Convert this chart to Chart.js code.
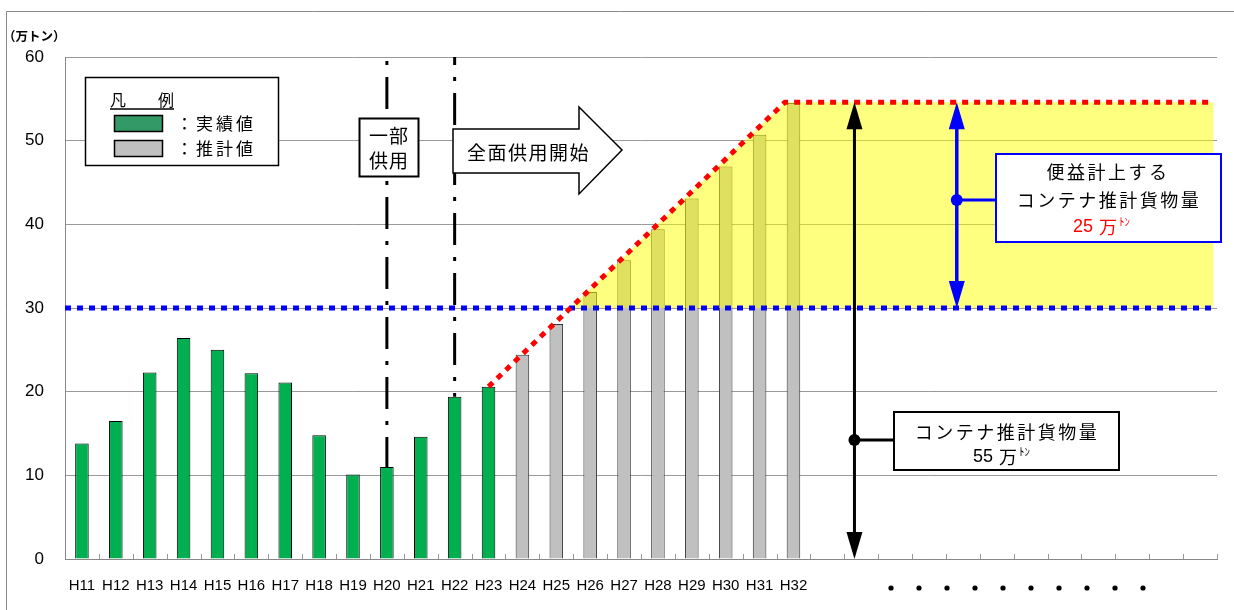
<!DOCTYPE html>
<html lang="ja">
<head>
  <meta charset="UTF-8">
  <title>コンテナ推計貨物量</title>
  <script src="https://cdn.jsdelivr.net/npm/chart.js"></script>
  <style>
    body { margin: 0; background: #fff; }
    canvas { display: block; }
  </style>
</head>
<body>
  <canvas id="cargoChart" width="1234" height="610"></canvas>

  <script>
    // data (万トン)
    const years = ['H11','H12','H13','H14','H15','H16','H17','H18','H19','H20','H21','H22','H23',
                   'H24','H25','H26','H27','H28','H29','H30','H31','H32'];
    const emptySlots = 12;
    const actual = [13.8, 16.5, 22.3, 26.4, 25.0, 22.2, 21.1, 14.8, 10.1, 11.0, 14.6, 19.4, 20.6];
    const forecast = [24.4, 28.1, 31.9, 35.7, 39.4, 43.1, 46.9, 50.7, 54.5];
    const yTicks = [0, 10, 20, 30, 40, 50, 60];

    // overlay lines, in (category index, value)
    const threshold = 30;
    const plateau = 54.6;
    const rampLine = [{x: 12, y: 20.6}, {x: 20.75, y: plateau}, {x: 33.4, y: plateau}];
    const benefitArea = [{x: 14.42, y: threshold}, {x: 20.75, y: plateau}, {x: 33.4, y: plateau}];
    const thresholdLine = [{x: -0.5, y: threshold}, {x: 33.4, y: threshold}];
    const partialOpen = 9;   // H20
    const fullOpen = 11;     // H22
    const totalArrowAt = 22.8;
    const benefitArrowAt = 25.82;

    const labels = years.concat(Array(emptySlots).fill(''));
    const actualData = labels.map((_, i) => i < actual.length ? actual[i] : null);
    const forecastData = labels.map((_, i) => {
      const k = i - actual.length;
      return k >= 0 && k < forecast.length ? forecast[k] : null;
    });

    const JP = '"Noto Sans CJK JP", sans-serif';
    const LAT = '"Liberation Sans", Arial, sans-serif';

    function text(ctx, str, x, y, font, color, align, spacing) {
      ctx.save();
      ctx.font = font;
      ctx.fillStyle = color || '#000';
      ctx.textAlign = align || 'left';
      ctx.textBaseline = 'middle';
      ctx.letterSpacing = spacing || '0px';
      ctx.fillText(str, x, y);
      ctx.restore();
    }

    function box(ctx, x, y, w, h, stroke, lw) {
      ctx.save();
      ctx.fillStyle = '#fff';
      ctx.fillRect(x, y, w, h);
      ctx.strokeStyle = stroke;
      ctx.lineWidth = lw;
      ctx.strokeRect(x, y, w, h);
      ctx.restore();
    }

    function doubleArrow(ctx, x, yTop, yBot, color, lw) {
      ctx.save();
      ctx.strokeStyle = color;
      ctx.fillStyle = color;
      ctx.lineWidth = lw;
      ctx.beginPath();
      ctx.moveTo(x, yTop + 20);
      ctx.lineTo(x, yBot - 20);
      ctx.stroke();
      ctx.beginPath();
      ctx.moveTo(x, yTop); ctx.lineTo(x - 8, yTop + 27); ctx.lineTo(x + 8, yTop + 27);
      ctx.closePath(); ctx.fill();
      ctx.beginPath();
      ctx.moveTo(x, yBot); ctx.lineTo(x - 8, yBot - 27); ctx.lineTo(x + 8, yBot - 27);
      ctx.closePath(); ctx.fill();
      ctx.restore();
    }

    function dot(ctx, x, y, r, color) {
      ctx.save();
      ctx.fillStyle = color;
      ctx.beginPath();
      ctx.arc(x, y, r, 0, Math.PI * 2);
      ctx.fill();
      ctx.restore();
    }

    // "NN 万ﾄﾝ" with the small unit
    function tonnage(ctx, num, x, y, color) {
      text(ctx, num, x, y, '18px ' + LAT, color, 'left');
      text(ctx, '万', x + 26, y, '18px ' + JP, color, 'left');
      text(ctx, 'ﾄﾝ', x + 46, y - 5, '11px ' + JP, color, 'left');
    }

    const decorations = {
      id: 'decorations',
      beforeDraw(chart) {
        const ctx = chart.ctx;
        ctx.save();
        ctx.strokeStyle = '#888';
        ctx.lineWidth = 1;
        ctx.beginPath();
        ctx.moveTo(6.5, 610); ctx.lineTo(6.5, 11.5); ctx.lineTo(1234, 11.5);
        ctx.stroke();
        ctx.restore();
        text(ctx, '（万トン）', 3, 36, 'bold 12.5px ' + JP, '#000', 'left');
      },
      afterDraw(chart) {
        const ctx = chart.ctx;
        const xl = chart.scales.xl;
        const y = chart.scales.y;
        const area = chart.chartArea;

        // small inner ticks on the category axis
        ctx.save();
        ctx.strokeStyle = '#999';
        ctx.lineWidth = 1;
        for (let i = 1; i <= labels.length; i++) {
          const px = Math.round(xl.getPixelForValue(i - 0.5)) + 0.5;
          ctx.beginPath();
          ctx.moveTo(px, area.bottom);
          ctx.lineTo(px, area.bottom - 5);
          ctx.stroke();
        }
        ctx.restore();

        // total forecast arrow and callout
        const ax = xl.getPixelForValue(totalArrowAt);
        doubleArrow(ctx, ax, y.getPixelForValue(plateau), y.getPixelForValue(0), '#000', 3);
        const ay = 440;
        ctx.save();
        ctx.strokeStyle = '#000'; ctx.lineWidth = 3;
        ctx.beginPath(); ctx.moveTo(ax, ay); ctx.lineTo(894, ay); ctx.stroke();
        ctx.restore();
        dot(ctx, ax, ay, 6, '#000');
        box(ctx, 894, 412, 225, 58, '#000', 2);
        text(ctx, 'コンテナ推計貨物量', 1007, 432, '18px ' + JP, '#000', 'center', '2.5px');
        tonnage(ctx, '55', 973, 457, '#000');

        // benefit arrow and callout
        const bx = xl.getPixelForValue(benefitArrowAt);
        doubleArrow(ctx, bx, y.getPixelForValue(plateau), y.getPixelForValue(threshold), '#0000ff', 3.5);
        const by = 200;
        ctx.save();
        ctx.strokeStyle = '#0000ff'; ctx.lineWidth = 3;
        ctx.beginPath(); ctx.moveTo(bx, by); ctx.lineTo(996, by); ctx.stroke();
        ctx.restore();
        dot(ctx, bx, by, 6, '#0000ff');
        box(ctx, 996, 154, 225, 88, '#0000ff', 2);
        text(ctx, '便益計上する', 1108, 172, '18px ' + JP, '#000', 'center', '2.5px');
        text(ctx, 'コンテナ推計貨物量', 1109, 200, '18px ' + JP, '#000', 'center', '2.5px');
        tonnage(ctx, '25', 1073, 227, '#ff0000');

        // 一部供用 box
        box(ctx, 359.5, 118.5, 59, 58, '#000', 2);
        text(ctx, '一部', 389, 136, '19px ' + JP, '#000', 'center', '1px');
        text(ctx, '供用', 389, 161, '19px ' + JP, '#000', 'center', '1px');

        // 全面供用開始 arrow
        ctx.save();
        ctx.fillStyle = '#fff';
        ctx.strokeStyle = '#000';
        ctx.lineWidth = 1.5;
        ctx.beginPath();
        ctx.moveTo(453, 129); ctx.lineTo(579, 129); ctx.lineTo(579, 107);
        ctx.lineTo(622, 150); ctx.lineTo(579, 194); ctx.lineTo(579, 173);
        ctx.lineTo(453, 173); ctx.closePath();
        ctx.fill(); ctx.stroke();
        ctx.restore();
        text(ctx, '全面供用開始', 467, 153, '19px ' + JP, '#000', 'left', '1.5px');

        // legend
        box(ctx, 85.5, 77.5, 193, 88, '#000', 1.5);
        text(ctx, '凡', 110, 100, '16px ' + JP, '#000', 'left');
        text(ctx, '例', 158, 100, '16px ' + JP, '#000', 'left');
        ctx.save();
        ctx.strokeStyle = '#000'; ctx.lineWidth = 1.5;
        ctx.beginPath(); ctx.moveTo(110, 109); ctx.lineTo(174, 109); ctx.stroke();
        ctx.fillStyle = '#339966';
        ctx.fillRect(114.5, 115.5, 48, 16);
        ctx.strokeRect(114.5, 115.5, 48, 16);
        ctx.fillStyle = '#c0c0c0';
        ctx.fillRect(114.5, 140.5, 48, 16);
        ctx.strokeRect(114.5, 140.5, 48, 16);
        ctx.restore();
        text(ctx, '：実績値', 176, 124, '17px ' + JP, '#000', 'left', '3px');
        text(ctx, '：推計値', 176, 149, '17px ' + JP, '#000', 'left', '3px');

        // continuation dots
        for (let k = 0; k < 10; k++) dot(ctx, 891 + 28 * k, 588, 2.6, '#000');
      }
    };

    const canvas = document.getElementById('cargoChart');
    new Chart(canvas, {
      type: 'bar',
      data: {
        labels: labels,
        datasets: [
          {
            label: '実績値',
            data: actualData,
            backgroundColor: '#00b050',
            borderColor: '#000',
            borderWidth: 1,
            grouped: false,
            barPercentage: 0.4,
            categoryPercentage: 1,
            order: 5
          },
          {
            label: '推計値',
            data: forecastData,
            backgroundColor: '#c0c0c0',
            borderColor: '#333',
            borderWidth: 1,
            grouped: false,
            barPercentage: 0.4,
            categoryPercentage: 1,
            order: 5
          },
          {
            type: 'line',
            data: benefitArea,
            xAxisID: 'xl',
            borderWidth: 0,
            pointRadius: 0,
            backgroundColor: 'rgba(255,255,0,0.5)',
            fill: {value: threshold},
            order: 4
          },
          {
            type: 'line',
            data: [{x: partialOpen, y: 60}, {x: partialOpen, y: actual[partialOpen]}],
            xAxisID: 'xl',
            borderColor: '#000',
            borderWidth: 3,
            borderDash: [32, 12, 4, 12],
            borderDashOffset: 40,
            pointRadius: 0,
            fill: false,
            order: 3
          },
          {
            type: 'line',
            data: [{x: fullOpen, y: 60}, {x: fullOpen, y: actual[fullOpen]}],
            xAxisID: 'xl',
            borderColor: '#000',
            borderWidth: 3,
            borderDash: [32, 12, 4, 12],
            borderDashOffset: 24,
            pointRadius: 0,
            fill: false,
            order: 3
          },
          {
            type: 'line',
            data: thresholdLine,
            xAxisID: 'xl',
            borderColor: '#0000ff',
            borderWidth: 5,
            borderDash: [6, 6],
            pointRadius: 0,
            fill: false,
            order: 2
          },
          {
            type: 'line',
            data: rampLine,
            xAxisID: 'xl',
            borderColor: '#ff0000',
            borderWidth: 5,
            borderDash: [6, 6],
            pointRadius: 0,
            fill: false,
            order: 1
          }
        ]
      },
      options: {
        responsive: false,
        animation: false,
        layout: {padding: {top: 57, right: 17, left: 0, bottom: 0}},
        plugins: {legend: {display: false}, tooltip: {enabled: false}},
        scales: {
          x: {
            type: 'category',
            offset: true,
            grid: {display: false, drawTicks: false},
            border: {display: true, color: '#888'},
            ticks: {
              autoSkip: false, maxRotation: 0, padding: 18, color: '#000',
              font: {family: LAT, size: 15}
            },
            afterFit: s => { s.height = 51; }
          },
          xl: {
            type: 'linear', display: false, offset: false, bounds: 'data',
            min: -0.5, max: 33.5, grace: 0
          },
          y: {
            min: 0, max: 60,
            afterBuildTicks: s => { s.ticks = yTicks.map(v => ({value: v})); },
            grid: {color: '#999', drawTicks: false},
            border: {display: true, color: '#888'},
            ticks: {
              padding: 21, color: '#000',
              font: {family: LAT, size: 17}
            },
            afterFit: s => { s.width = 65; }
          }
        }
      },
      plugins: [decorations]
    });
  </script>
</body>
</html>
